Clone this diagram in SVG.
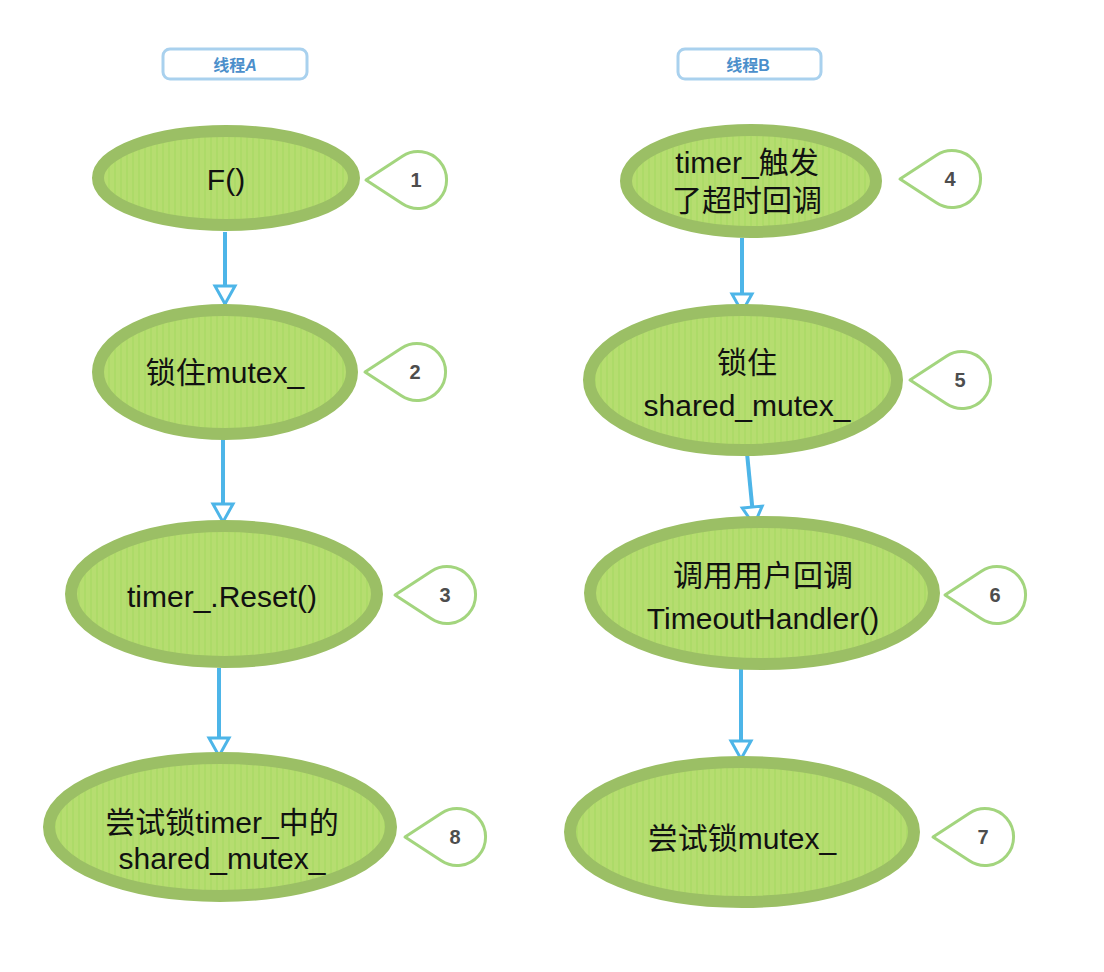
<svg xmlns="http://www.w3.org/2000/svg" xmlns:xlink="http://www.w3.org/1999/xlink" width="1104" height="972" viewBox="0 0 1104 972">
<defs>
<style>
.node ellipse{fill:url(#stripes);stroke:#9bbf65;stroke-width:12}
.node text{font-family:"Liberation Sans","Noto Sans CJK SC",sans-serif;font-size:30px;fill:#111;text-anchor:middle}
.drop{fill:#fff;stroke:#a3d57e;stroke-width:3;stroke-linejoin:round}
.num{font-family:"Liberation Sans","Noto Sans CJK SC",sans-serif;font-size:20px;font-weight:bold;fill:#4d4d4d;text-anchor:middle}
.conn line{stroke:#4db5e8;stroke-width:4;marker-end:url(#arrow)}
.lbl rect{fill:#fff;stroke:#a9d1ee;stroke-width:3}
.lbl text{font-family:"Liberation Sans","Noto Sans CJK SC",sans-serif;font-size:16px;font-weight:bold;fill:#4b8fcb;text-anchor:middle}
</style>
<pattern id="stripes" width="6" height="10" patternUnits="userSpaceOnUse">
<rect width="6" height="10" fill="#b6dd70"/>
<rect width="2" height="10" fill="#addb68"/>
</pattern>
<marker id="arrow" markerUnits="userSpaceOnUse" markerWidth="26" markerHeight="26" viewBox="0 0 26 26" refX="22" refY="13" orient="auto">
<path d="M4,3 L22,13 L4,23 Z" fill="#fff" stroke="#4db5e8" stroke-width="3" stroke-linejoin="miter"/>
</marker>
<path id="drop" class="drop" d="M0,0 L36.4,-23.8 A28.5,28.5 0 1 1 36.4,23.8 Z"/>
</defs>
<rect width="1104" height="972" fill="#fff"/>

<g id="label-A" class="lbl"><rect x="163" y="49" width="144" height="30" rx="7"/><text x="235" y="71">线程<tspan font-style="italic">A</tspan></text></g>
<g id="label-B" class="lbl"><rect x="678" y="49" width="143" height="30" rx="7"/><text x="748" y="71">线程B</text></g>

<g id="connectors" class="conn">
<line x1="225" y1="232" x2="225" y2="304"/>
<line x1="223" y1="434" x2="223" y2="522"/>
<line x1="219" y1="668" x2="219" y2="756"/>
<line x1="742" y1="238" x2="742" y2="312"/>
<line x1="747" y1="453" x2="754" y2="525"/>
<line x1="741" y1="668" x2="741" y2="759"/>
</g>

<g id="n1" class="node"><ellipse cx="226" cy="178" rx="128" ry="47"/><text x="226" y="190">F()</text></g>
<g id="n2" class="node"><ellipse cx="225" cy="372" rx="127" ry="62"/><text x="225" y="383">锁住mutex_</text></g>
<g id="n3" class="node"><ellipse cx="224" cy="594" rx="153" ry="68"/><text x="222" y="607">timer_.Reset()</text></g>
<g id="n8" class="node"><ellipse cx="220" cy="827" rx="171" ry="69"/><text x="222" y="833">尝试锁timer_中的</text><text x="222" y="869">shared_mutex_</text></g>
<g id="n4" class="node"><ellipse cx="751" cy="181" rx="125" ry="51"/><text x="747" y="173">timer_触发</text><text x="747" y="211">了超时回调</text></g>
<g id="n5" class="node"><ellipse cx="743" cy="380" rx="154" ry="70"/><text x="747" y="373">锁住</text><text x="747" y="416">shared_mutex_</text></g>
<g id="n6" class="node"><ellipse cx="762" cy="593" rx="172" ry="71"/><text x="763" y="586">调用用户回调</text><text x="763" y="629">TimeoutHandler()</text></g>
<g id="n7" class="node"><ellipse cx="742" cy="832" rx="172" ry="70"/><text x="742" y="849">尝试锁mutex_</text></g>

<g id="c1"><use xlink:href="#drop" x="366" y="180"/><text class="num" x="416" y="187">1</text></g>
<g id="c2"><use xlink:href="#drop" x="365" y="372"/><text class="num" x="415" y="379">2</text></g>
<g id="c3"><use xlink:href="#drop" x="395" y="595"/><text class="num" x="445" y="602">3</text></g>
<g id="c8"><use xlink:href="#drop" x="405" y="837"/><text class="num" x="455" y="844">8</text></g>
<g id="c4"><use xlink:href="#drop" x="900" y="179"/><text class="num" x="950" y="186">4</text></g>
<g id="c5"><use xlink:href="#drop" x="910" y="380"/><text class="num" x="960" y="387">5</text></g>
<g id="c6"><use xlink:href="#drop" x="945" y="595"/><text class="num" x="995" y="602">6</text></g>
<g id="c7"><use xlink:href="#drop" x="933" y="837"/><text class="num" x="983" y="844">7</text></g>
</svg>
